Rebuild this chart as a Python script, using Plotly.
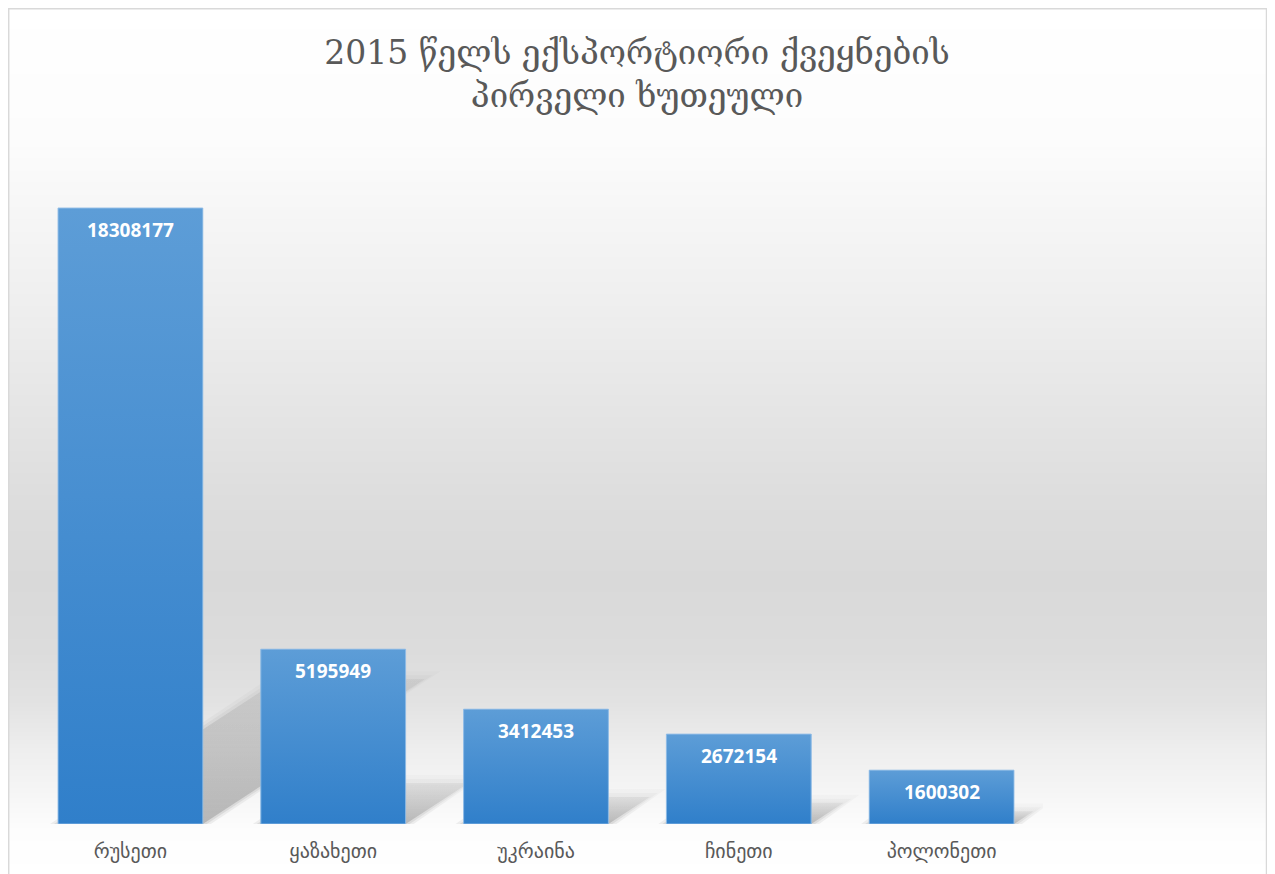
import plotly.graph_objects as go
import zlib, struct, base64

# ---------------- data ----------------
categories = ["რუსეთი", "ყაზახეთი", "უკრაინა", "ჩინეთი", "პოლონეთი"]
values = [18308177, 5195949, 3412453, 2672154, 1600302]
title_lines = ["2015 წელს ექსპორტიორი ქვეყნების", "პირველი ხუთეული"]

# ---------------- layout geometry ----------------
OFF = 8                      # page body margin
W, H = 1275 - OFF, 874 - OFF
ML, MR, MT, MB = 21, 232, 142, 50
plot_w = W - ML - MR
plot_h = H - MT - MB
YMAX = 2.0032e7
BAR_W = 0.714
TOP_C = (93, 157, 215)
BOT_C = (48, 127, 202)


def px2x(px):            # screen px -> paper x
    return (px - OFF - ML) / plot_w


def px2y(py):            # screen px -> paper y
    return (H - MB - (py - OFF)) / plot_h


# background gradient as a tiny PNG
stops = [(6, 255), (140, 252), (200, 247), (300, 239), (400, 230), (500, 221),
         (580, 217), (650, 220), (700, 226), (750, 238), (790, 245), (830, 253), (874, 255)]


def gray_at(py):
    for (y0, g0), (y1, g1) in zip(stops[:-1], stops[1:]):
        if y0 <= py <= y1:
            t = (py - y0) / (y1 - y0)
            return int(round(g0 + (g1 - g0) * t))
    return 255


def make_png(width, rows):
    raw = b"".join(b"\x00" + bytes([g]) * width for g in rows)

    def chunk(tag, data):
        c = struct.pack(">I", len(data)) + tag + data
        return c + struct.pack(">I", zlib.crc32(tag + data) & 0xffffffff)

    png = b"\x89PNG\r\n\x1a\n"
    png += chunk(b"IHDR", struct.pack(">IIBBBBB", width, len(rows), 8, 0, 0, 0, 0))
    png += chunk(b"IDAT", zlib.compress(raw, 9))
    png += chunk(b"IEND", b"")
    return "data:image/png;base64," + base64.b64encode(png).decode()


bg_top, bg_bot = 9, 874
rows = [gray_at(y) for y in range(bg_top, bg_bot)]
bg_src = make_png(4, rows)

fig = go.Figure()

# underlying bar trace
fig.add_trace(go.Bar(
    x=list(range(len(categories))), y=values, width=BAR_W,
    marker=dict(color="rgb(70,142,208)", line=dict(width=0)),
    hoverinfo="skip", showlegend=False,
))

# perspective shadows (computed from data)
px_per_cat = plot_w / len(categories)
px_per_unit = plot_h / YMAX
for i, v in enumerate(values):
    h_px = v * px_per_unit
    dx = 0.36 * h_px / px_per_cat
    dy = 0.235 * v
    for grow, alpha in [(8, 0.06), (4, 0.08), (0, 0.16)]:
        gx = grow / px_per_cat
        gy = grow / px_per_unit
        xl = i - BAR_W / 2 - gx
        xr = i + BAR_W / 2 + gx
        fig.add_trace(go.Scatter(
            x=[xl, xr, xr + dx + gx, xl + dx + gx, xl],
            y=[0, 0, dy + gy, dy + gy, 0],
            mode="lines", line=dict(width=0), fill="toself",
            fillgradient=dict(type="vertical", colorscale=[
                [0, f"rgba(0,0,0,{alpha})"], [1, f"rgba(0,0,0,{alpha * 0.3})"]]),
            hoverinfo="skip", showlegend=False,
        ))

# gradient bar faces
for i, v in enumerate(values):
    xl = i - BAR_W / 2
    xr = i + BAR_W / 2
    fig.add_trace(go.Scatter(
        x=[xl, xr, xr, xl, xl], y=[0, 0, v, v, 0],
        mode="lines", line=dict(width=1, color="rgba(150,192,232,0.9)"), fill="toself",
        fillgradient=dict(type="vertical", colorscale=[
            [0, "rgb(%d,%d,%d)" % BOT_C], [1, "rgb(%d,%d,%d)" % TOP_C]]),
        hoverinfo="skip", showlegend=False,
    ))

# data labels
for i, v in enumerate(values):
    fig.add_annotation(
        x=i, y=v, text=str(v), showarrow=False, yanchor="middle", yshift=-22,
        font=dict(family="Open Sans", size=19, color="white", weight="bold"),
    )

fig.update_layout(
    width=W, height=H,
    margin=dict(l=ML, r=MR, t=MT, b=MB, autoexpand=False),
    paper_bgcolor="white", plot_bgcolor="rgba(0,0,0,0)",
    title=dict(
        text="<br>".join(title_lines), x=(637 - OFF) / W, xref="container", xanchor="center",
        y=1 - (64 - OFF) / H, yref="container", yanchor="middle",
        font=dict(family="DejaVu Serif, DejaVu Sans", size=33, color="#595959"),
    ),
    xaxis=dict(
        range=[-0.5, len(categories) - 0.5], tickmode="array",
        tickvals=list(range(len(categories))), ticktext=categories,
        showgrid=False, zeroline=False, showline=False,
        ticks="outside", ticklen=9, tickcolor="rgba(0,0,0,0)",
        tickfont=dict(family="DejaVu Sans", size=20, color="#595959"),
        fixedrange=True,
    ),
    yaxis=dict(range=[0, YMAX], visible=False, fixedrange=True),
    images=[dict(
        source=bg_src, xref="paper", yref="paper",
        x=px2x(8), y=px2y(bg_top), sizex=(1266 - 8) / plot_w, sizey=(bg_bot - bg_top) / plot_h,
        xanchor="left", yanchor="top", sizing="stretch", layer="below",
    )],
    shapes=[dict(
        type="rect", xref="paper", yref="paper",
        x0=px2x(8.7), x1=px2x(1266.5), y0=px2y(890), y1=px2y(8.7),
        line=dict(color="#d9d9d9", width=1.5), fillcolor="rgba(0,0,0,0)", layer="above",
    )],
    showlegend=False,
)

fig.write_html("out.html")
